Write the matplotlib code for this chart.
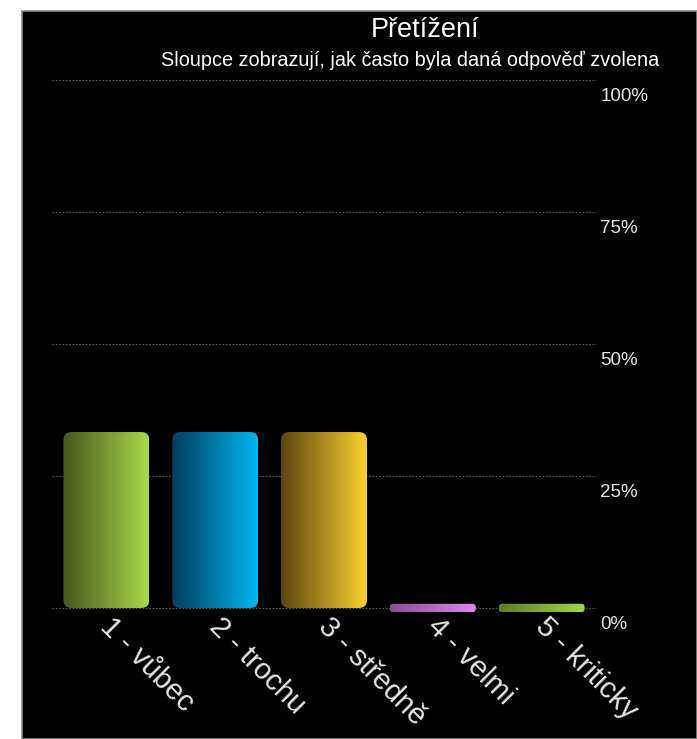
import numpy as np
import matplotlib
matplotlib.use("Agg")
import matplotlib.pyplot as plt
from matplotlib.patches import FancyBboxPatch, Rectangle
from matplotlib.colors import LinearSegmentedColormap
from matplotlib.transforms import ScaledTranslation

plt.rcParams['font.family'] = ['Liberation Sans', 'DejaVu Sans']

title = "Přetížení"
subtitle = "Sloupce zobrazují, jak často byla daná odpověď zvolena"
categories = ["1 - vůbec", "2 - trochu", "3 - středně", "4 - velmi", "5 - kriticky"]
shares = [33.33, 33.33, 33.33, 0.0, 0.0]
bar_colors = [("#45561c", "#a9da4a"),
              ("#003e5c", "#00b6f2"),
              ("#5c4510", "#fad22e"),
              ("#8a4c94", "#d98ae8"),
              ("#5e7c22", "#a6d646")]
y_ticks = [0, 25, 50, 75, 100]
y_tick_labels = ["0%", "25%", "50%", "75%", "100%"]

W, H = 697, 739
fig = plt.figure(figsize=(W / 100, H / 100), dpi=100, facecolor="white")

# black panel with a thin grey edge, leaving a white margin top/left
fig.patches.append(Rectangle((22 / W, 0), 1 - 22 / W, 1 - 11 / H,
                             transform=fig.transFigure, facecolor="black",
                             edgecolor="#8a8a8a", linewidth=1.2, zorder=-1))

ax = fig.add_axes([52 / W, 1 - 608 / H, 544 / W, 528 / H], zorder=1)
ax.set_facecolor("none")
for s in ax.spines.values():
    s.set_visible(False)

ax.set_xlim(-0.5, len(categories) - 0.5)
ax.set_ylim(0, 100)

for v in y_ticks:
    ax.axhline(v, color="#5a5a5a", linestyle=(0, (1.5, 1.5)), linewidth=0.8,
               zorder=1, clip_on=False)

# pixel scale for rounded corners
px_x = len(categories) / 544.0
px_y = 100 / 528.0
aspect = px_y / px_x

width = 0.79
stub = 1.6  # minimum visible height for empty answers
for i, (val, (c0, c1)) in enumerate(zip(shares, bar_colors)):
    x0 = i - width / 2
    if val > 0:
        y0, h = 0, val
        r = 8 * px_x
    else:
        y0, h = -stub / 2, stub
        r = 3.5 * px_x
    patch = FancyBboxPatch((x0, y0), width, h,
                           boxstyle=f"round,pad=0,rounding_size={r}",
                           mutation_aspect=aspect, facecolor="none",
                           edgecolor="none", transform=ax.transData,
                           clip_on=False)
    ax.add_patch(patch)
    cmap = LinearSegmentedColormap.from_list(f"g{i}", [c0, c1])
    grad = np.linspace(0, 1, 256).reshape(1, -1)
    im = ax.imshow(grad, cmap=cmap, extent=(x0, x0 + width, y0, y0 + h),
                   aspect="auto", zorder=2, interpolation="bilinear")
    im.set_clip_box(fig.bbox)
    im.set_clip_path(patch)

ax.set_xlim(-0.5, len(categories) - 0.5)
ax.set_ylim(0, 100)

ax.set_xticks(range(len(categories)))
ax.set_xticklabels(categories, rotation=-45, ha="left", va="top",
                   rotation_mode="anchor", fontsize=21, color="#e6e6e6")
ax.tick_params(axis="x", length=0, pad=3)
for lab in ax.get_xticklabels():
    lab.set_transform(lab.get_transform() + ScaledTranslation(6 / 72, 0, fig.dpi_scale_trans))

ax.yaxis.tick_right()
ax.set_yticks(y_ticks)
ax.set_yticklabels(y_tick_labels, fontsize=13.5, color="#e6e6e6", va="top")
ax.tick_params(axis="y", length=0, pad=3)
for lab in ax.get_yticklabels():
    lab.set_transform(lab.get_transform() + ScaledTranslation(0, -6 / 72, fig.dpi_scale_trans))

fig.text(425 / W, 1 - 30 / H, title, ha="center", va="center",
         fontsize=19.5, color="white")
fig.text(410 / W, 1 - 61 / H, subtitle, ha="center", va="center",
         fontsize=14.3, color="white")

fig.savefig("out.png", dpi=100, facecolor="white")
